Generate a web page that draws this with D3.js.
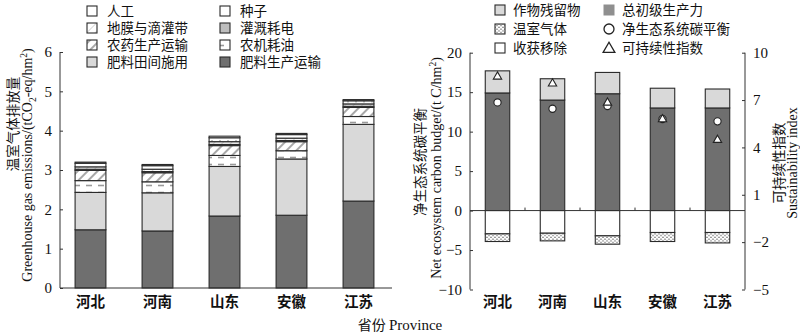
<!DOCTYPE html>
<html>
<head>
<meta charset="utf-8">
<script src="https://cdn.jsdelivr.net/npm/d3@7"></script>
<style>
  html, body { margin: 0; padding: 0; background: #fff; }
  svg { display: block; }
  .zh { font-family: "Noto Sans CJK SC", sans-serif; }
  .en { font-family: "Liberation Serif", "DejaVu Serif", serif; }
</style>
</head>
<body>
<svg id="chart" width="800" height="336"></svg>
<script>
// Provinces (shared category axis)
const provinces = ["河北", "河南", "山东", "安徽", "江苏"];

// Greenhouse gas emissions by source, tCO2-eq/hm2 (stacked bottom to top)
const fertProduction = [1.48, 1.45, 1.83, 1.85, 2.21];
const fertField      = [0.95, 0.97, 1.26, 1.43, 1.95];
const machineryFuel  = [0.30, 0.28, 0.28, 0.21, 0.20];
const pesticide      = [0.26, 0.23, 0.25, 0.23, 0.23];
const irrigation     = [0.03, 0.03, 0.03, 0.03, 0.03];
const filmDrip       = [0.06, 0.06, 0.07, 0.06, 0.06];
const seed           = [0.09, 0.09, 0.10, 0.09, 0.08];
const labor          = [0.03, 0.03, 0.04, 0.03, 0.03];
const ghgTicks = [0, 1, 2, 3, 4, 5, 6];

// Net ecosystem carbon budget components, t C/hm2
const gpp        = [14.9, 14.0, 14.8, 13.0, 13.0];
const residue    = [2.8, 2.7, 2.7, 2.5, 2.4];
const harvest    = [2.95, 2.87, 3.2, 2.78, 2.78];
const ghgCarbon  = [0.97, 0.97, 1.06, 1.14, 1.32];
const necb       = [13.7, 12.9, 13.25, 11.6, 11.3];
const sustainIdx = [8.48, 8.04, 6.83, 5.78, 4.47];
const necbTicks = [-10, -5, 0, 5, 10, 15, 20];
const sustTicks = [-5, -2, 1, 4, 7, 10];

const svg = d3.select("#chart");
const defs = svg.append("defs");

// Fill patterns
const pDash = defs.append("pattern").attr("id", "pDash").attr("patternUnits", "userSpaceOnUse")
  .attr("width", 12).attr("height", 7);
pDash.append("rect").attr("width", 12).attr("height", 7).attr("fill", "#fff");
pDash.append("line").attr("x1", 2).attr("x2", 8).attr("y1", 3.5).attr("y2", 3.5)
  .attr("stroke", "#9a9a9a").attr("stroke-width", 1.6);

const pHatch = defs.append("pattern").attr("id", "pHatch").attr("patternUnits", "userSpaceOnUse")
  .attr("width", 7).attr("height", 7).attr("patternTransform", "rotate(45)");
pHatch.append("rect").attr("width", 7).attr("height", 7).attr("fill", "#fff");
pHatch.append("line").attr("x1", 0).attr("x2", 0).attr("y1", 0).attr("y2", 7)
  .attr("stroke", "#a8a8a8").attr("stroke-width", 4);

const pTick = defs.append("pattern").attr("id", "pTick").attr("patternUnits", "userSpaceOnUse")
  .attr("width", 8).attr("height", 20);
pTick.append("rect").attr("width", 8).attr("height", 20).attr("fill", "#fff");
pTick.append("line").attr("x1", 4).attr("x2", 4).attr("y1", 0).attr("y2", 2.5)
  .attr("stroke", "#888").attr("stroke-width", 1);

const pFilm = defs.append("pattern").attr("id", "pFilm").attr("patternUnits", "userSpaceOnUse")
  .attr("width", 6).attr("height", 6).attr("patternTransform", "rotate(45)");
pFilm.append("rect").attr("width", 6).attr("height", 6).attr("fill", "#fff");
pFilm.append("line").attr("x1", 0).attr("x2", 0).attr("y1", 0).attr("y2", 6)
  .attr("stroke", "#bbb").attr("stroke-width", 1.2);

const pDots = defs.append("pattern").attr("id", "pDots").attr("patternUnits", "userSpaceOnUse")
  .attr("width", 4).attr("height", 3.5);
pDots.append("rect").attr("width", 4).attr("height", 3.5).attr("fill", "#fff");
pDots.append("circle").attr("cx", 1).attr("cy", 1).attr("r", 0.65).attr("fill", "#333");
pDots.append("circle").attr("cx", 3).attr("cy", 2.75).attr("r", 0.65).attr("fill", "#333");

const DARK = "#6f6f6f", LIGHT = "#d9d9d9", STROKE = "#2a2a2a";

// ---------------- Left panel: GHG emissions ----------------
const ghgSeries = [
  { key: "肥料生产运输", values: fertProduction, fill: DARK },
  { key: "肥料田间施用", values: fertField, fill: LIGHT },
  { key: "农机耗油", values: machineryFuel, fill: "url(#pDash)" },
  { key: "农药生产运输", values: pesticide, fill: "url(#pHatch)" },
  { key: "灌溉耗电", values: irrigation, fill: "#bdbdbd" },
  { key: "地膜与滴灌带", values: filmDrip, fill: "url(#pFilm)" },
  { key: "种子", values: seed, fill: "url(#pTick)" },
  { key: "人工", values: labor, fill: "#fff" }
];

const table = provinces.map((p, i) => {
  const row = { province: p };
  ghgSeries.forEach(s => row[s.key] = s.values[i]);
  return row;
});
const stacked = d3.stack().keys(ghgSeries.map(s => s.key))(table);

const x1 = d3.scaleBand().domain(provinces).range([57, 392]).paddingInner(0.54).paddingOuter(0.27);
const y1 = d3.scaleLinear().domain([0, 6]).range([288, 52]);

const left = svg.append("g");
stacked.forEach((layer, li) => {
  left.append("g").selectAll("rect").data(layer).join("rect")
    .attr("x", d => x1(d.data.province))
    .attr("width", x1.bandwidth())
    .attr("y", d => y1(d[1]))
    .attr("height", d => y1(d[0]) - y1(d[1]))
    .attr("fill", ghgSeries[li].fill)
    .attr("stroke", STROKE).attr("stroke-width", 1.1);
});

// axes
const yAxis1 = d3.axisLeft(y1).tickValues(ghgTicks).tickSize(-3).tickPadding(8).tickFormat(d3.format("d"));
left.append("g").attr("transform", "translate(60,0)").call(yAxis1)
  .call(g => g.select(".domain").attr("d", `M0,${y1(6)}V${y1(0)}`))
  .call(g => g.selectAll("text").attr("class", "en").attr("font-size", 15).attr("fill", "#111"))
  .call(g => g.selectAll("line, path").attr("stroke", "#333"));
left.append("line").attr("x1", 60).attr("x2", 392).attr("y1", y1(0)).attr("y2", y1(0))
  .attr("stroke", "#333").attr("stroke-width", 1);
left.append("g").selectAll("text").data(provinces).join("text")
  .attr("class", "zh").attr("x", d => x1(d) + x1.bandwidth() / 2).attr("y", 307)
  .attr("text-anchor", "middle").attr("font-size", 14.5).attr("font-weight", 600).attr("fill", "#111")
  .text(d => d);

// y titles
left.append("text").attr("class", "zh").attr("transform", "translate(18,124) rotate(-90)")
  .attr("text-anchor", "middle").attr("font-size", 13.5).attr("fill", "#111").text("温室气体排放量");
const t1 = left.append("text").attr("class", "en").attr("transform", "translate(32,165) rotate(-90)")
  .attr("text-anchor", "middle").attr("font-size", 14).attr("fill", "#111");
t1.append("tspan").text("Greenhouse gas emissions/(tCO");
t1.append("tspan").attr("font-size", 9.5).attr("dy", 4).text("2");
t1.append("tspan").attr("dy", -4).text("-eq/hm");
t1.append("tspan").attr("font-size", 9.5).attr("dy", -5).text("2");
t1.append("tspan").attr("dy", 5).text(")");

// legend (two columns, reverse stack order)
const legendOrder = ["人工", "种子", "地膜与滴灌带", "灌溉耗电", "农药生产运输", "农机耗油", "肥料田间施用", "肥料生产运输"];
const legendRows = [11, 28, 45, 62];
const leg1 = left.append("g");
legendOrder.forEach((k, i) => {
  const s = ghgSeries.find(d => d.key === k);
  const col = i % 2, row = Math.floor(i / 2);
  const lx = col === 0 ? 87 : 220;
  const ly = legendRows[row];
  leg1.append("rect").attr("x", lx).attr("y", ly - 5).attr("width", 10).attr("height", 10)
    .attr("fill", s.fill).attr("stroke", STROKE).attr("stroke-width", 1.1);
  leg1.append("text").attr("class", "zh").attr("x", lx + 20).attr("y", ly + 5)
    .attr("font-size", 13.5).attr("fill", "#111").text(k);
});

// ---------------- Right panel: NECB ----------------
const x2 = d3.scaleBand().domain(provinces).range([470, 745]).paddingInner(0.555).paddingOuter(0.2775);
const y2 = d3.scaleLinear().domain([-10, 20]).range([289.5, 52.7]);
const y2r = d3.scaleLinear().domain([-5, 10]).range([289.5, 52.7]);

const right = svg.append("g");
const cx = d => x2(d) + x2.bandwidth() / 2;

// positive stack: GPP then residue
right.append("g").selectAll("rect").data(provinces).join("rect")
  .attr("x", d => x2(d)).attr("width", x2.bandwidth())
  .attr("y", (d, i) => y2(gpp[i])).attr("height", (d, i) => y2(0) - y2(gpp[i]))
  .attr("fill", DARK).attr("stroke", STROKE).attr("stroke-width", 1.1);
right.append("g").selectAll("rect").data(provinces).join("rect")
  .attr("x", d => x2(d)).attr("width", x2.bandwidth())
  .attr("y", (d, i) => y2(gpp[i] + residue[i])).attr("height", (d, i) => y2(gpp[i]) - y2(gpp[i] + residue[i]))
  .attr("fill", LIGHT).attr("stroke", STROKE).attr("stroke-width", 1.1);
// negative stack: harvest removal then greenhouse gas
right.append("g").selectAll("rect").data(provinces).join("rect")
  .attr("x", d => x2(d)).attr("width", x2.bandwidth())
  .attr("y", y2(0)).attr("height", (d, i) => y2(-harvest[i]) - y2(0))
  .attr("fill", "#fff").attr("stroke", STROKE).attr("stroke-width", 1.1);
right.append("g").selectAll("rect").data(provinces).join("rect")
  .attr("x", d => x2(d)).attr("width", x2.bandwidth())
  .attr("y", (d, i) => y2(-harvest[i])).attr("height", (d, i) => y2(-harvest[i] - ghgCarbon[i]) - y2(-harvest[i]))
  .attr("fill", "url(#pDots)").attr("stroke", STROKE).attr("stroke-width", 1.1);

// axes
right.append("g").attr("transform", "translate(470,0)")
  .call(d3.axisLeft(y2).tickValues(necbTicks).tickSize(-3).tickPadding(8).tickFormat(d => d < 0 ? "\u2212" + Math.abs(d) : d))
  .call(g => g.select(".domain").attr("d", `M0,${y2(20)}V${y2(-10)}`))
  .call(g => g.selectAll("text").attr("class", "en").attr("font-size", 15).attr("fill", "#111"))
  .call(g => g.selectAll("line, path").attr("stroke", "#333"));
right.append("g").attr("transform", "translate(745,0)")
  .call(d3.axisRight(y2r).tickValues(sustTicks).tickSize(-3).tickPadding(8).tickFormat(d => d < 0 ? "\u2212" + Math.abs(d) : d))
  .call(g => g.select(".domain").attr("d", `M0,${y2r(10)}V${y2r(-5)}`))
  .call(g => g.selectAll("text").attr("class", "en").attr("font-size", 15).attr("fill", "#111"))
  .call(g => g.selectAll("line, path").attr("stroke", "#333"));
// zero line with category separators
right.append("line").attr("x1", 470).attr("x2", 745).attr("y1", y2(0)).attr("y2", y2(0))
  .attr("stroke", "#333").attr("stroke-width", 1);
right.append("g").selectAll("line").data(provinces.slice(1)).join("line")
  .attr("x1", d => x2(d) - x2.step() * x2.paddingInner() / 2)
  .attr("x2", d => x2(d) - x2.step() * x2.paddingInner() / 2)
  .attr("y1", y2(0)).attr("y2", y2(0) - 3).attr("stroke", "#333");
right.append("g").selectAll("text").data(provinces).join("text")
  .attr("class", "zh").attr("x", d => cx(d)).attr("y", 307)
  .attr("text-anchor", "middle").attr("font-size", 14.5).attr("font-weight", 600).attr("fill", "#111")
  .text(d => d);

// markers
right.append("g").selectAll("circle").data(provinces).join("circle")
  .attr("cx", d => cx(d)).attr("cy", (d, i) => y2(necb[i])).attr("r", 3.6)
  .attr("fill", "#fff").attr("stroke", "#222").attr("stroke-width", 1.1);
const tri = d3.symbol().type(d3.symbolTriangle).size(30);
right.append("g").selectAll("path").data(provinces).join("path")
  .attr("transform", (d, i) => `translate(${cx(d)},${y2r(sustainIdx[i])})`)
  .attr("d", tri).attr("fill", "#fff").attr("stroke", "#222").attr("stroke-width", 1.1);

// y titles
right.append("text").attr("class", "zh").attr("transform", "translate(425,162) rotate(-90)")
  .attr("text-anchor", "middle").attr("font-size", 13.5).attr("fill", "#111").text("净生态系统碳平衡");
const t2 = right.append("text").attr("class", "en").attr("transform", "translate(441,168) rotate(-90)")
  .attr("text-anchor", "middle").attr("font-size", 14).attr("fill", "#111");
t2.append("tspan").text("Net ecosystem carbon budget/(t C/hm");
t2.append("tspan").attr("font-size", 9.5).attr("dy", -5).text("2");
t2.append("tspan").attr("dy", 5).text(")");
right.append("text").attr("class", "zh").attr("transform", "translate(784,163) rotate(-90)")
  .attr("text-anchor", "middle").attr("font-size", 13.5).attr("fill", "#111").text("可持续性指数");
right.append("text").attr("class", "en").attr("transform", "translate(797,163) rotate(-90)")
  .attr("text-anchor", "middle").attr("font-size", 14).attr("fill", "#111").text("Sustainability index");

// legend
const leg2 = right.append("g");
const leg2Items = [
  { label: "作物残留物", kind: "rect", fill: LIGHT, x: 495, y: 10 },
  { label: "温室气体", kind: "rect", fill: "url(#pDots)", x: 495, y: 29 },
  { label: "收获移除", kind: "rect", fill: "#fff", x: 495, y: 48 },
  { label: "总初级生产力", kind: "gray", fill: "#8f8f8f", x: 604, y: 10 },
  { label: "净生态系统碳平衡", kind: "circle", x: 604, y: 29 },
  { label: "可持续性指数", kind: "tri", x: 604, y: 48 }
];
leg2Items.forEach(it => {
  if (it.kind === "rect") {
    leg2.append("rect").attr("x", it.x).attr("y", it.y - 5).attr("width", 10).attr("height", 10)
      .attr("fill", it.fill).attr("stroke", STROKE).attr("stroke-width", 1.1);
  } else if (it.kind === "gray") {
    leg2.append("rect").attr("x", it.x).attr("y", it.y - 5).attr("width", 10).attr("height", 10)
      .attr("fill", it.fill).attr("stroke", "#8f8f8f");
  } else if (it.kind === "circle") {
    leg2.append("circle").attr("cx", it.x + 5).attr("cy", it.y).attr("r", 5)
      .attr("fill", "#fff").attr("stroke", "#222").attr("stroke-width", 1.3);
  } else {
    leg2.append("path").attr("transform", `translate(${it.x + 5},${it.y + 1})`)
      .attr("d", d3.symbol().type(d3.symbolTriangle).size(60)).attr("fill", "#fff")
      .attr("stroke", "#222").attr("stroke-width", 1.3);
  }
  leg2.append("text").attr("class", "zh").attr("x", it.x + 18).attr("y", it.y + 5)
    .attr("font-size", 13.5).attr("fill", "#111").text(it.label);
});

// shared x title
const xt = svg.append("text").attr("x", 400).attr("y", 330).attr("text-anchor", "middle")
  .attr("font-size", 14).attr("fill", "#111");
xt.append("tspan").attr("class", "zh").text("省份 ");
xt.append("tspan").attr("class", "en").attr("font-size", 15).text("Province");
</script>
</body>
</html>
